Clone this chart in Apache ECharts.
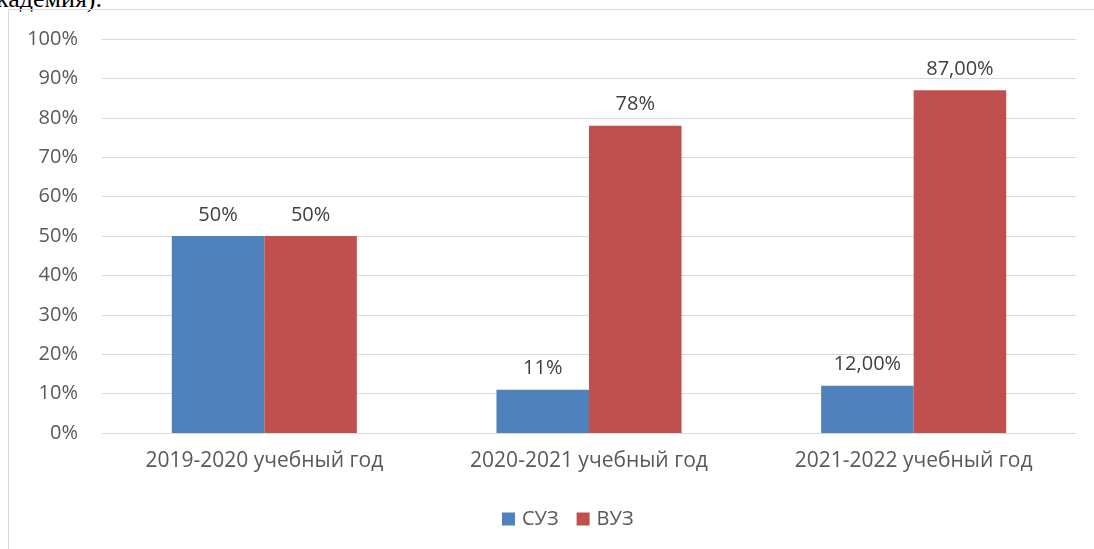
<!DOCTYPE html>
<html>
<head>
<meta charset="utf-8">
<script src="https://cdn.jsdelivr.net/npm/echarts@6/dist/echarts.min.js"></script>
<style>
  html, body { margin: 0; padding: 0; background: #fff; overflow: hidden; }
  .caption { position: absolute; left: -4px; top: -16px; font-family: "Liberation Serif", serif; font-size: 26px; color: #000; }
  .frame { position: absolute; left: 8px; top: 9px; width: 1200px; height: 700px; border: 1px solid #d9d9d9; box-sizing: border-box; }
  #chart { position: absolute; left: 0; top: 0; width: 1094px; height: 549px; }
</style>
</head>
<body>
<div class="caption">кадемия).</div>
<div class="frame"></div>
<div id="chart"></div>
<script>
// data
var categories = ["2019-2020 учебный год", "2020-2021 учебный год", "2021-2022 учебный год"];
var suzValues = [50, 11, 12];
var vuzValues = [50, 78, 87];
var suzLabels = ["50%", "11%", "12,00%"];
var vuzLabels = ["50%", "78%", "87,00%"];

var chart = echarts.init(document.getElementById("chart"));
var font = "'Open Sans', 'Noto Sans', sans-serif";

function barLabel(texts) {
  return {
    show: true,
    position: "top",
    distance: 11,
    fontSize: 20,
    fontFamily: font,
    color: "#404040",
    formatter: function (p) { return texts[p.dataIndex]; }
  };
}

var option = {
  animation: false,
  grid: { left: 102, right: 18, top: 39, bottom: 116 },
  legend: {
    bottom: 15,
    left: 497,
    itemWidth: 13,
    itemHeight: 13,
    itemGap: 18,
    icon: "rect",
    textStyle: { fontSize: 20, fontFamily: font, color: "#595959", padding: [0, 0, 0, 2] },
    data: ["СУЗ", "ВУЗ"]
  },
  xAxis: {
    type: "category",
    data: categories,
    axisTick: { show: false },
    axisLine: { lineStyle: { color: "#d9d9d9", width: 1 } },
    axisLabel: { fontSize: 21, fontFamily: font, color: "#595959", margin: 18 }
  },
  yAxis: {
    type: "value",
    min: 0,
    max: 100,
    interval: 10,
    axisLine: { show: false },
    axisTick: { show: false },
    splitLine: { lineStyle: { color: "#d9d9d9", width: 1 } },
    axisLabel: { fontSize: 20, fontFamily: font, color: "#595959", margin: 24, formatter: "{value}%" }
  },
  series: [
    {
      name: "СУЗ",
      type: "bar",
      data: suzValues,
      barGap: "0%",
      barCategoryGap: "43%",
      itemStyle: { color: "#4f81bd" },
      label: barLabel(suzLabels)
    },
    {
      name: "ВУЗ",
      type: "bar",
      data: vuzValues,
      itemStyle: { color: "#c0504d" },
      label: barLabel(vuzLabels)
    }
  ]
};

chart.setOption(option);
</script>
</body>
</html>
